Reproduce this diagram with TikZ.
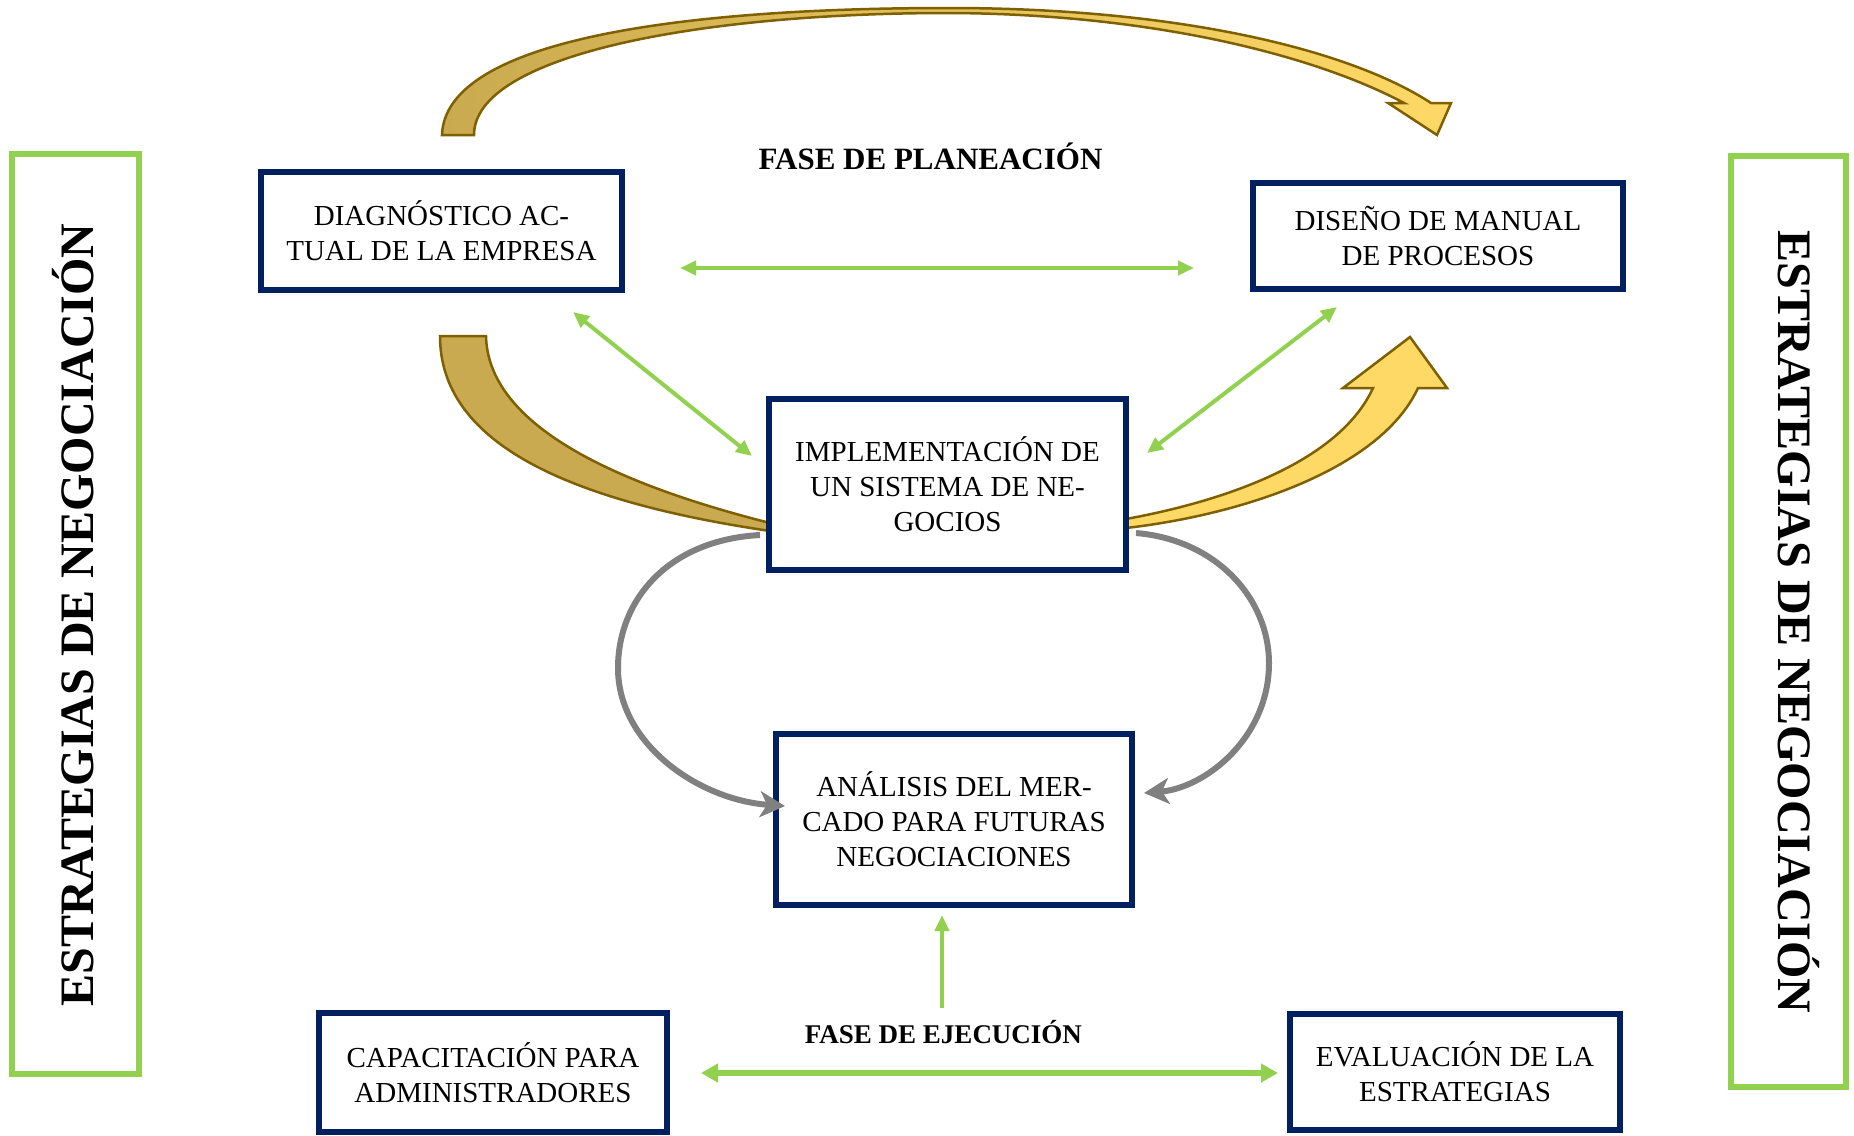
\documentclass[tikz,border=0pt]{standalone}
\usepackage{fontspec}
\setmainfont{Liberation Serif}
\usetikzlibrary{arrows.meta}
\definecolor{navy}{HTML}{002060}
\definecolor{leaf}{HTML}{92D050}
\definecolor{goldD}{HTML}{C9AA50}
\definecolor{goldL}{HTML}{FFD966}
\definecolor{goldE}{HTML}{7F6000}
\definecolor{steel}{HTML}{808080}

\begin{document}
\begin{tikzpicture}[x=1pt,y=-1pt,
  procbox/.style={draw=navy, line width=6pt, fill=white, align=center,
    font=\fontsize{29}{35}\selectfont, inner sep=0pt},
  sidebox/.style={draw=leaf, line width=5.5pt, inner sep=0pt},
  sidelabel/.style={font=\bfseries\fontsize{48}{58}\selectfont, inner sep=0pt},
  phase/.style={inner sep=0pt},
  band/.style={draw=goldE, line width=2.5pt, line join=miter},
  link/.style={leaf, line width=4pt,
    {Triangle[length=16pt,width=14pt]}-{Triangle[length=16pt,width=14pt]}},
  wide link/.style={leaf, line width=6pt,
    {Triangle[length=17pt,width=18pt]}-{Triangle[length=17pt,width=18pt]}},
  uplink/.style={leaf, line width=4.5pt, -{Triangle[length=16pt,width=14pt]}},
  loopback/.style={steel, line width=6pt,
    -{Stealth[length=25pt,width=26pt,inset=7pt]}}
]
\useasboundingbox (0,0) rectangle (1854,1135);

% ---- gold block arrows ----
\path[band, left color=goldD, right color=goldL]
  (442,135) .. controls (445,40) and (680,8) .. (949,8)
  .. controls (1180,8) and (1350,50) .. (1431,103)
  -- (1451,103) -- (1437,135) -- (1388,103) -- (1404,103)
  .. controls (1320,58) and (1160,14) .. (949,13)
  .. controls (700,13) and (474,55) .. (474,135) -- cycle;

\path[band, fill=goldD]
  (440,336) .. controls (440,440) and (560,500) .. (770,531)
  -- (770,523) .. controls (600,480) and (488,420) .. (486,336) -- cycle;

\path[band, fill=goldL]
  (1126,519) .. controls (1230,500) and (1340,460) .. (1373,388)
  -- (1343,388) -- (1410,337) -- (1447,388) -- (1418,388)
  .. controls (1380,470) and (1240,515) .. (1126,528) -- cycle;

% ---- side frames ----
\node[sidebox, minimum width=127pt, minimum height=920pt] (lframe) at (75.5,614) {};
\node[sidelabel, rotate=90, anchor=base] (ltext) at (93,615) {ESTRATEGIAS DE NEGOCIACIÓN};
\node[sidebox, minimum width=115pt, minimum height=931pt] (rframe) at (1788.5,621.5) {};
\node[sidelabel, rotate=-90, anchor=base] (rtext) at (1778,622) {ESTRATEGIAS DE NEGOCIACIÓN};

% ---- process boxes ----
\node[procbox, minimum width=361pt, minimum height=118pt] (diag) at (441.5,231)
  {DIAGNÓSTICO AC-\\TUAL DE LA EMPRESA};
\node[procbox, minimum width=370pt, minimum height=106pt] (manual) at (1438,236)
  {DISEÑO DE MANUAL\\DE PROCESOS};
\node[procbox, minimum width=357pt, minimum height=171pt] (impl) at (947.5,484.5)
  {IMPLEMENTACIÓN DE\\UN SISTEMA DE NE-\\GOCIOS};
\node[procbox, minimum width=356pt, minimum height=171pt] (market) at (954,819.5)
  {ANÁLISIS DEL MER-\\CADO PARA FUTURAS\\NEGOCIACIONES};
\node[procbox, minimum width=348pt, minimum height=119pt] (train) at (493,1072.5)
  {CAPACITACIÓN PARA\\ADMINISTRADORES};
\node[procbox, minimum width=330pt, minimum height=116pt] (evalst) at (1455,1072)
  {EVALUACIÓN DE LA\\ESTRATEGIAS};

% ---- phase titles ----
\node[phase, anchor=base, font=\bfseries\fontsize{31}{36}\selectfont] (plan) at (930.5,169)
  {FASE DE PLANEACIÓN};
\node[phase, anchor=base, font=\bfseries\fontsize{27}{32}\selectfont] (exec) at (943.5,1043)
  {FASE DE EJECUCIÓN};

% ---- connector end points ----
\coordinate (hA) at (680,268);  \coordinate (hB) at (1194,268);
\coordinate (dA) at (573,312);  \coordinate (dB) at (752,456);
\coordinate (eA) at (1337,307); \coordinate (eB) at (1147,453);
\coordinate (vA) at (942,1008); \coordinate (vB) at (942,915);
\coordinate (bA) at (701,1073); \coordinate (bB) at (1278,1073);
\coordinate (gA) at (760,535);  \coordinate (gB) at (785,806);
\coordinate (kA) at (1136,533); \coordinate (kB) at (1144,793);

% ---- green links ----
\draw[link] (hA) -- (hB);
\draw[link] (dA) -- (dB);
\draw[link] (eA) -- (eB);
\draw[uplink] (vA) -- (vB);
\draw[wide link] (bA) -- (bB);

% ---- grey loops ----
\draw[loopback] (gA) .. controls (668,540) and (618,600) .. (618,668)
  .. controls (618,745) and (700,800) .. (gB);
\draw[loopback] (kA) .. controls (1218,540) and (1269,600) .. (1269,663)
  .. controls (1269,738) and (1205,788) .. (kB);
\end{tikzpicture}
\end{document}
